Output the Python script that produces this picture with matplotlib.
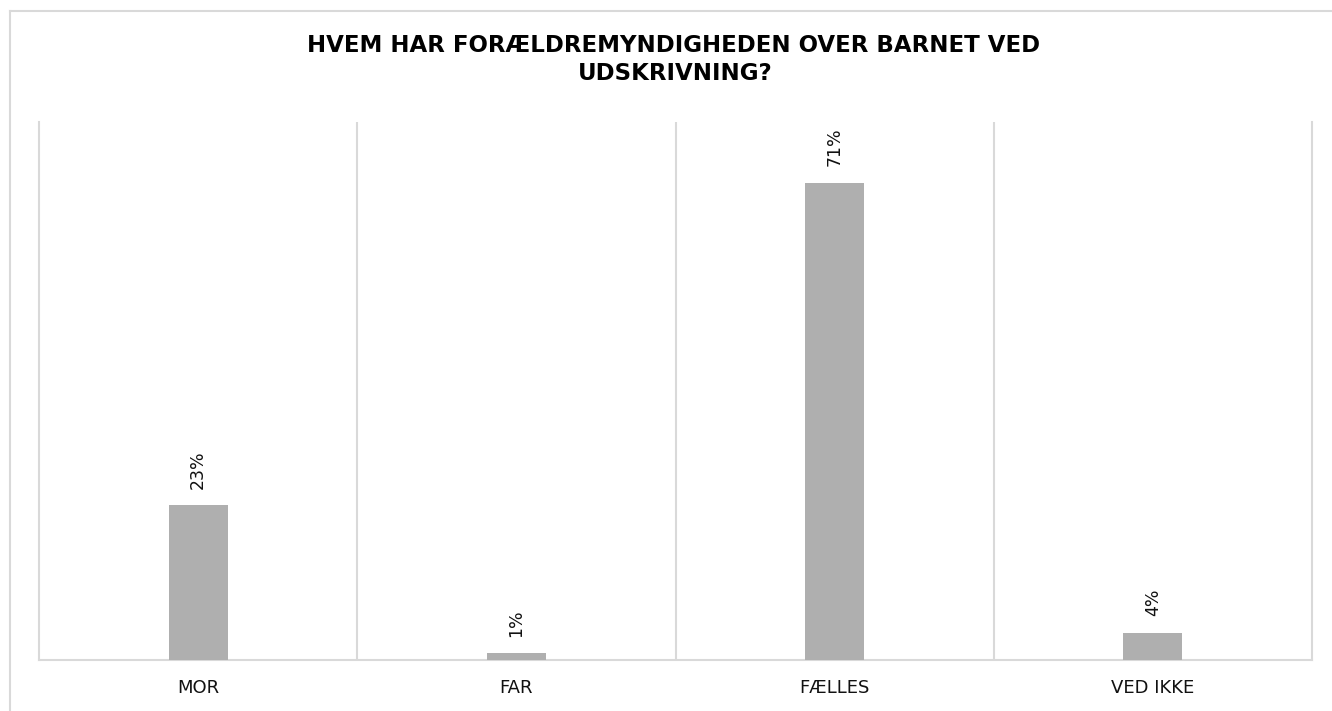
import matplotlib.pyplot as plt
from matplotlib.lines import Line2D

kategorier = ['MOR', 'FAR', 'FÆLLES', 'VED IKKE']
andele = [23, 1, 71, 4]
etiketter = ['23%', '1%', '71%', '4%']

plt.rcParams['font.family'] = ['DejaVu Sans']
fig = plt.figure(figsize=(13.32, 7.11), dpi=100)

# lys ramme: kun venstre og øverste kant er synlige
rx, ry = 10 / 1332, 1 - 11 / 711
fig.lines.append(Line2D([rx, rx], [0, ry], transform=fig.transFigure,
                        color='#d9d9d9', linewidth=1.5))
fig.lines.append(Line2D([rx, 1], [ry, ry], transform=fig.transFigure,
                        color='#d9d9d9', linewidth=1.5))

ax = fig.add_axes([39 / 1332, 1 - 660 / 711, (1312 - 39) / 1332, (660 - 122) / 711])
x = range(len(kategorier))
ax.bar(x, andele, width=0.185, color='#afafaf', zorder=3)
for i, (v, t) in enumerate(zip(andele, etiketter)):
    ax.annotate(t, (i, v), xytext=(0, 12), textcoords='offset points',
                rotation=90, ha='center', va='bottom', fontsize=12.5, color='#111111')

ax.set_xlim(-0.5, 3.5)
ax.set_ylim(0, 80)
for b in [0.5, 1.5, 2.5]:
    ax.axvline(b, color='#d9d9d9', linewidth=1.5, zorder=1)
ax.spines['top'].set_visible(False)
for s in ['left', 'right', 'bottom']:
    ax.spines[s].set_color('#d9d9d9')
    ax.spines[s].set_linewidth(1.5)
ax.set_yticks([])
ax.set_xticks(list(x))
ax.set_xticklabels(kategorier, fontsize=13, color='#111111')
ax.tick_params(axis='x', length=0, pad=14)

fig.text(0.506, 1 - 45 / 711, 'HVEM HAR FORÆLDREMYNDIGHEDEN OVER BARNET VED',
         ha='center', va='center', fontsize=16.5, fontweight='bold')
fig.text(0.507, 1 - 73 / 711, 'UDSKRIVNING?',
         ha='center', va='center', fontsize=16.5, fontweight='bold')

fig.savefig('out.png', dpi=100, facecolor='white')
